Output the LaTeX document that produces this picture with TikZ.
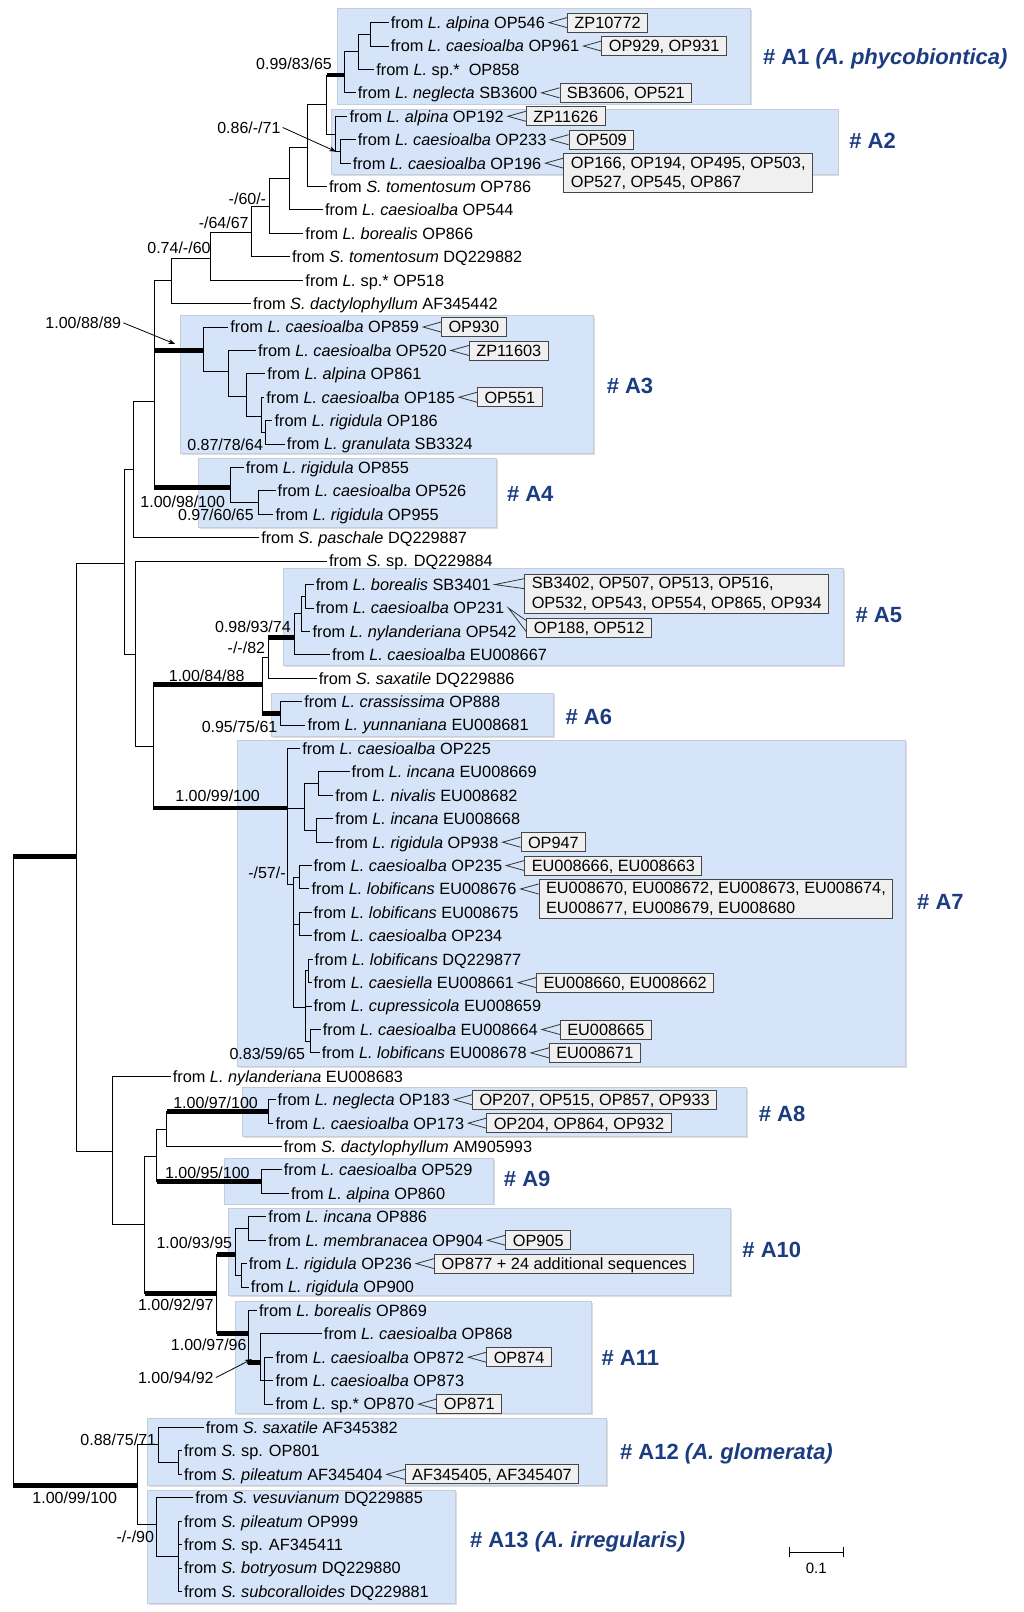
\documentclass[tikz,border=0pt]{standalone}
\usepackage{fontspec}
\setmainfont{Liberation Sans}
\usetikzlibrary{arrows.meta,shadows}
\definecolor{cladefill}{RGB}{213,228,248}
\definecolor{cladeedge}{RGB}{195,205,220}
\definecolor{cladetext}{RGB}{27,60,128}
\definecolor{idfill}{RGB}{240,240,240}
\definecolor{iddraw}{RGB}{70,70,70}
\begin{document}
\begin{tikzpicture}[x=1.0281pt,y=-1.0281pt,
  br/.style={line width=1pt},
  thk/.style={line width=4.6pt},
  clade/.style={fill=cladefill,draw=cladeedge,line width=0.6pt,drop shadow={shadow xshift=1.6pt,shadow yshift=-1.6pt,fill=black!22,opacity=0.6}},
  leaf/.style={anchor=west,inner xsep=2pt,inner ysep=0pt,font=\fontsize{16.3}{18}\selectfont,text height=11.7pt,text depth=0pt},
  idbox/.style={anchor=west,draw=iddraw,fill=idfill,line width=0.9pt,inner xsep=7pt,inner ysep=0pt,minimum height=19pt,font=\fontsize{16.3}{18}\selectfont,text height=11.7pt,text depth=0pt},
  idboxtwo/.style={anchor=north west,draw=iddraw,fill=idfill,line width=0.9pt,inner xsep=7pt,inner ysep=3pt,minimum height=39pt,align=left,font=\fontsize{16.3}{19.5}\selectfont},
  ptr/.style={draw=black!80,line width=0.8pt},
  sup/.style={anchor=east,inner sep=0pt,font=\fontsize{16}{18}\selectfont,text height=11.5pt,text depth=0pt},
  cl/.style={anchor=west,inner sep=0pt,text=cladetext,font=\fontsize{22}{24}\selectfont\bfseries,text height=16pt,text depth=0pt},
  arr/.style={-{Stealth[length=7pt,width=5pt]},line width=0.8pt},
]
\useasboundingbox (0,0) rectangle (996,1568);

% clade boxes
\path[clade] (328,8) rectangle (730,101);
\path[clade] (322,106) rectangle (815,170);
\path[clade] (175,307) rectangle (577,441);
\path[clade] (193,446) rectangle (483,513);
\path[clade] (276,553) rectangle (820,647);
\path[clade] (264,674) rectangle (538,716);
\path[clade] (231,720) rectangle (881,1037);
\path[clade] (236,1058) rectangle (726,1105);
\path[clade] (218,1127) rectangle (480,1171);
\path[clade] (222,1175) rectangle (710,1260);
\path[clade] (229,1266) rectangle (575,1375);
\path[clade] (143,1380) rectangle (590,1445);
\path[clade] (143,1450) rectangle (443,1560);

% leaves
\node[leaf] (l1) at (378,22.0) {from \textit{L. alpina} OP546};
\node[leaf] (l2) at (378,44.8) {from \textit{L. caesioalba} OP961};
\node[leaf] (l3) at (364,67.6) {from \textit{L.} sp.*\ \ OP858};
\node[leaf] (l4) at (346,90.3) {from \textit{L. neglecta} SB3600};
\node[leaf] (l5) at (338,113.1) {from \textit{L. alpina} OP192};
\node[leaf] (l6) at (346,135.9) {from \textit{L. caesioalba} OP233};
\node[leaf] (l7) at (341,158.7) {from \textit{L. caesioalba} OP196};
\node[leaf] (l8) at (318,181.4) {from \textit{S. tomentosum} OP786};
\node[leaf] (l9) at (314,204.2) {from \textit{L. caesioalba} OP544};
\node[leaf] (l10) at (295,227.0) {from \textit{L. borealis} OP866};
\node[leaf] (l11) at (282,249.8) {from \textit{S. tomentosum} DQ229882};
\node[leaf] (l12) at (295,272.5) {from \textit{L.} sp.* OP518};
\node[leaf] (l13) at (244,295.3) {from \textit{S. dactylophyllum} AF345442};
\node[leaf] (l14) at (222,318.1) {from \textit{L. caesioalba} OP859};
\node[leaf] (l15) at (249,340.9) {from \textit{L. caesioalba} OP520};
\node[leaf] (l16) at (258,363.6) {from \textit{L. alpina} OP861};
\node[leaf] (l17) at (257,386.4) {from \textit{L. caesioalba} OP185};
\node[leaf] (l18) at (265,409.2) {from \textit{L. rigidula} OP186};
\node[leaf] (l19) at (277,432.0) {from \textit{L. granulata} SB3324};
\node[leaf] (l20) at (237,454.7) {from \textit{L. rigidula} OP855};
\node[leaf] (l21) at (268,477.5) {from \textit{L. caesioalba} OP526};
\node[leaf] (l22) at (266,500.3) {from \textit{L. rigidula} OP955};
\node[leaf] (l23) at (252,523.1) {from \textit{S. paschale} DQ229887};
\node[leaf] (l24) at (318,545.8) {from \textit{S.} sp. DQ229884};
\node[leaf] (l25) at (305,568.6) {from \textit{L. borealis} SB3401};
\node[leaf] (l26) at (305,591.4) {from \textit{L. caesioalba} OP231};
\node[leaf] (l27) at (302,614.2) {from \textit{L. nylanderiana} OP542};
\node[leaf] (l28) at (321,637.0) {from \textit{L. caesioalba} EU008667};
\node[leaf] (l29) at (308,659.7) {from \textit{S. saxatile} DQ229886};
\node[leaf] (l30) at (294,682.5) {from \textit{L. crassissima} OP888};
\node[leaf] (l31) at (297,705.3) {from \textit{L. yunnaniana} EU008681};
\node[leaf] (l32) at (292,728.1) {from \textit{L. caesioalba} OP225};
\node[leaf] (l33) at (340,750.8) {from \textit{L. incana} EU008669};
\node[leaf] (l34) at (324,773.6) {from \textit{L. nivalis} EU008682};
\node[leaf] (l35) at (324,796.4) {from \textit{L. incana} EU008668};
\node[leaf] (l36) at (324,819.2) {from \textit{L. rigidula} OP938};
\node[leaf] (l37) at (303,841.9) {from \textit{L. caesioalba} OP235};
\node[leaf] (l38) at (301,864.7) {from \textit{L. lobificans} EU008676};
\node[leaf] (l39) at (303,887.5) {from \textit{L. lobificans} EU008675};
\node[leaf] (l40) at (303,910.3) {from \textit{L. caesioalba} OP234};
\node[leaf] (l41) at (304,933.0) {from \textit{L. lobificans} DQ229877};
\node[leaf] (l42) at (303,955.8) {from \textit{L. caesiella} EU008661};
\node[leaf] (l43) at (303,978.6) {from \textit{L. cupressicola} EU008659};
\node[leaf] (l44) at (312,1001.4) {from \textit{L. caesioalba} EU008664};
\node[leaf] (l45) at (311,1024.1) {from \textit{L. lobificans} EU008678};
\node[leaf] (l46) at (166,1046.9) {from \textit{L. nylanderiana} EU008683};
\node[leaf] (l47) at (268,1069.7) {from \textit{L. neglecta} OP183};
\node[leaf] (l48) at (266,1092.5) {from \textit{L. caesioalba} OP173};
\node[leaf] (l49) at (274,1115.2) {from \textit{S. dactylophyllum} AM905993};
\node[leaf] (l50) at (274,1138.0) {from \textit{L. caesioalba} OP529};
\node[leaf] (l51) at (281,1160.8) {from \textit{L. alpina} OP860};
\node[leaf] (l52) at (259,1183.6) {from \textit{L. incana} OP886};
\node[leaf] (l53) at (259,1206.4) {from \textit{L. membranacea} OP904};
\node[leaf] (l54) at (240,1229.1) {from \textit{L. rigidula} OP236};
\node[leaf] (l55) at (242,1251.9) {from \textit{L. rigidula} OP900};
\node[leaf] (l56) at (250,1274.7) {from \textit{L. borealis} OP869};
\node[leaf] (l57) at (313,1297.5) {from \textit{L. caesioalba} OP868};
\node[leaf] (l58) at (266,1320.2) {from \textit{L. caesioalba} OP872};
\node[leaf] (l59) at (266,1343.0) {from \textit{L. caesioalba} OP873};
\node[leaf] (l60) at (266,1365.8) {from \textit{L.} sp.* OP870};
\node[leaf] (l61) at (198,1388.6) {from \textit{S. saxatile} AF345382};
\node[leaf] (l62) at (177,1411.3) {from \textit{S.} sp. OP801};
\node[leaf] (l63) at (177,1434.1) {from \textit{S. pileatum} AF345404};
\node[leaf] (l64) at (188,1456.9) {from \textit{S. vesuvianum} DQ229885};
\node[leaf] (l65) at (177,1479.7) {from \textit{S. pileatum} OP999};
\node[leaf] (l66) at (177,1502.4) {from \textit{S.} sp. AF345411};
\node[leaf] (l67) at (177,1525.2) {from \textit{S. botryosum} DQ229880};
\node[leaf] (l68) at (177,1548.0) {from \textit{S. subcoralloides} DQ229881};

% internal nodes
\coordinate (root) at (12.7,1139);
\coordinate (n20) at (74,833);
\coordinate (n10) at (121,548);
\coordinate (n9) at (130,457);
\coordinate (n8) at (150,391);
\coordinate (n7) at (166.6,272.5);
\coordinate (n6) at (204.7,251.3);
\coordinate (n5) at (244.8,226.3);
\coordinate (n4) at (262.6,201);
\coordinate (n3) at (281.6,173.5);
\coordinate (n2) at (298.8,143);
\coordinate (n1) at (318,102);
\coordinate (a1) at (335,73);
\coordinate (a1b) at (348.4,50.5);
\coordinate (a1c) at (360.5,33.4);
\coordinate (a2) at (326,131);
\coordinate (a2b) at (331,147.3);
\coordinate (a3) at (198,340.9);
\coordinate (a3b) at (222.5,361);
\coordinate (a3c) at (240,386);
\coordinate (a3d) at (254,405);
\coordinate (a3e) at (258,420.6);
\coordinate (a4) at (224,474);
\coordinate (a4b) at (251,489);
\coordinate (n11) at (132,637);
\coordinate (n12) at (149,726);
\coordinate (n13) at (255,666);
\coordinate (n14) at (261,640);
\coordinate (a5) at (286,620);
\coordinate (a5s) at (293,597);
\coordinate (a5t) at (297,580);
\coordinate (a6) at (273,694);
\coordinate (a7) at (280,786);
\coordinate (a7i) at (296,786);
\coordinate (a7ia) at (310,762.2);
\coordinate (a7ib) at (308,807.8);
\coordinate (a7p) at (285,860);
\coordinate (pr1) at (291,853.3);
\coordinate (pr2) at (291,898.9);
\coordinate (a7q) at (297,980);
\coordinate (pr3) at (300,944.4);
\coordinate (pr4) at (302,1012.8);
\coordinate (n21) at (109,1120);
\coordinate (n22) at (141,1191);
\coordinate (n23) at (152.6,1125);
\coordinate (n25) at (162,1099);
\coordinate (a8) at (261,1081.1);
\coordinate (a9) at (254,1149.4);
\coordinate (n24) at (211,1258);
\coordinate (a10) at (229,1220);
\coordinate (a10a) at (242,1195);
\coordinate (a10b) at (235,1240.5);
\coordinate (a11) at (241.6,1297);
\coordinate (s11) at (253,1325.5);
\coordinate (s11c) at (257.5,1343);
\coordinate (n30) at (133.5,1445);
\coordinate (a12) at (154.5,1405.5);
\coordinate (a12b) at (173.5,1422.7);
\coordinate (a13) at (152.6,1483);
\coordinate (a13b) at (173.5,1514);

% branches
\foreach \p/\c in {root/n20, root/n30, n20/n10, n20/n21, n10/n9, n10/n11,
  n9/n8, n9/l23.west, n8/n7, n8/a3, n8/a4, n7/n6, n7/l13.west,
  n6/n5, n6/l12.west, n5/n4, n5/l11.west, n4/n3, n4/l10.west,
  n3/n2, n3/l9.west, n2/n1, n2/l8.west, n1/a1, n1/a2,
  a1/a1b, a1/l4.west, a1b/a1c, a1b/l3.west, a1c/l1.west, a1c/l2.west,
  a2/l5.west, a2/a2b, a2b/l6.west, a2b/l7.west,
  a3/l14.west, a3/a3b, a3b/l15.west, a3b/a3c, a3c/l16.west, a3c/a3d,
  a3d/l17.west, a3d/a3e, a3e/l18.west, a3e/l19.west,
  a4/l20.west, a4/a4b, a4b/l21.west, a4b/l22.west,
  n11/l24.west, n11/n12, n12/n13, n12/a7, n13/n14, n13/a6,
  n14/a5, n14/l29.west, a5/a5s, a5/l28.west, a5s/a5t, a5s/l27.west,
  a5t/l25.west, a5t/l26.west, a6/l30.west, a6/l31.west,
  a7/l32.west, a7/a7i, a7/a7p, a7i/a7ia, a7i/a7ib,
  a7ia/l33.west, a7ia/l34.west, a7ib/l35.west, a7ib/l36.west,
  a7p/pr1, a7p/pr2, a7p/a7q, pr1/l37.west, pr1/l38.west,
  pr2/l39.west, pr2/l40.west, a7q/pr3, a7q/l43.west, a7q/pr4,
  pr3/l41.west, pr3/l42.west, pr4/l44.west, pr4/l45.west,
  n21/l46.west, n21/n22, n22/n23, n22/n24, n23/n25, n23/a9,
  n25/a8, n25/l49.west, a8/l47.west, a8/l48.west, a9/l50.west, a9/l51.west,
  n24/a10, n24/a11, a10/a10a, a10/a10b, a10a/l52.west, a10a/l53.west,
  a10b/l54.west, a10b/l55.west, a11/l56.west, a11/s11,
  s11/l57.west, s11/s11c, s11c/l58.west, s11c/l59.west, s11c/l60.west,
  n30/a12, n30/a13, a12/l61.west, a12/a12b, a12b/l62.west, a12b/l63.west,
  a13/l64.west, a13/a13b, a13b/l65.west, a13b/l66.west, a13b/l67.west, a13b/l68.west}
  \draw[br] (\p) |- (\c);

\foreach \p/\c in {root/n20, root/n30, n1/a1, n8/a3, n8/a4, n14/a5, n12/n13,
  n13/a6, n12/a7, n25/a8, n23/a9, n22/n24, n24/a10, n24/a11, a11/s11}
  \draw[thk] (\p |- \c) -- (\c);

% id boxes
\node[idbox] (b1) at ([xshift=20pt]l1.east) {ZP10772};
\node[idbox] (b2) at ([xshift=20pt]l2.east) {OP929, OP931};
\node[idbox] (b3) at ([xshift=20pt]l4.east) {SB3606, OP521};
\node[idbox] (b4) at ([xshift=20pt]l5.east) {ZP11626};
\node[idbox] (b5) at ([xshift=20pt]l6.east) {OP509};
\node[idboxtwo] (b6) at ([xshift=20pt,yshift=10pt]l7.east) {OP166, OP194, OP495, OP503,\\OP527, OP545, OP867};
\node[idbox] (b7) at ([xshift=20pt]l14.east) {OP930};
\node[idbox] (b8) at ([xshift=20pt]l15.east) {ZP11603};
\node[idbox] (b9) at ([xshift=20pt]l17.east) {OP551};
\node[idboxtwo] (b10) at (510,558) {SB3402, OP507, OP513, OP516,\\OP532, OP543, OP554, OP865, OP934};
\node[idbox] (b11) at (512,610.5) {OP188, OP512};
\node[idbox] (b12) at ([xshift=20pt]l36.east) {OP947};
\node[idbox] (b13) at ([xshift=20pt]l37.east) {EU008666, EU008663};
\node[idboxtwo] (b14) at ([xshift=20pt,yshift=10pt]l38.east) {EU008670, EU008672, EU008673, EU008674,\\EU008677, EU008679, EU008680};
\node[idbox] (b15) at ([xshift=20pt]l42.east) {EU008660, EU008662};
\node[idbox] (b16) at ([xshift=20pt]l44.east) {EU008665};
\node[idbox] (b17) at ([xshift=20pt]l45.east) {EU008671};
\node[idbox] (b18) at ([xshift=20pt]l47.east) {OP207, OP515, OP857, OP933};
\node[idbox] (b19) at ([xshift=20pt]l48.east) {OP204, OP864, OP932};
\node[idbox] (b20) at ([xshift=20pt]l53.east) {OP905};
\node[idbox] (b21) at ([xshift=20pt]l54.east) {OP877 + 24 additional sequences};
\node[idbox] (b22) at ([xshift=20pt]l58.east) {OP874};
\node[idbox] (b23) at ([xshift=20pt]l60.east) {OP871};
\node[idbox] (b24) at ([xshift=20pt]l63.east) {AF345405, AF345407};

\foreach \bx/\lf in {b1/l1, b2/l2, b3/l4, b4/l5, b5/l6, b7/l14, b8/l15, b9/l17,
  b12/l36, b13/l37, b15/l42, b16/l44, b17/l45, b18/l47, b19/l48, b20/l53,
  b21/l54, b22/l58, b23/l60, b24/l63}
  \draw[ptr] ([yshift=5pt]\bx.west) -- ([xshift=2pt]\lf.east) -- ([yshift=-5pt]\bx.west);
\foreach \bx/\lf in {b6/l7, b10/l25, b14/l38}
  \draw[ptr] ([yshift=-5pt]\bx.north west) -- ([xshift=2pt]\lf.east) -- ([yshift=-15pt]\bx.north west);
\draw[ptr] ([yshift=-3pt]b11.north west) -- ([xshift=2pt]l26.east) -- ([yshift=-14pt]b11.north west);

% support values
\node[sup] (s1) at (323,61.6) {0.99/83/65};
\node[sup] (s2) at (273,124) {0.86/-/71};
\node[sup] (s3) at (259,193) {-/60/-};
\node[sup] (s4) at (242,217) {-/64/67};
\node[sup] (s5) at (205,241) {0.74/-/60};
\node[sup] (s6) at (118,314) {1.00/88/89};
\node[sup] (s7) at (256,432.5) {0.87/78/64};
\node[sup] (s8) at (219,488) {1.00/98/100};
\node[sup] (s9) at (247,501) {0.97/60/65};
\node[sup] (s10) at (283,610) {0.98/93/74};
\node[sup] (s11l) at (258,630) {-/-/82};
\node[sup] (s12) at (238,657) {1.00/84/88};
\node[sup] (s13) at (270,707) {0.95/75/61};
\node[sup] (s14) at (253,774) {1.00/99/100};
\node[sup] (s15) at (278,849) {-/57/-};
\node[sup] (s16) at (297,1024.5) {0.83/59/65};
\node[sup] (s17) at (251,1073) {1.00/97/100};
\node[sup] (s18) at (243,1141) {1.00/95/100};
\node[sup] (s19) at (226,1209) {1.00/93/95};
\node[sup] (s20) at (208,1269) {1.00/92/97};
\node[sup] (s21) at (240,1308) {1.00/97/96};
\node[sup] (s22) at (208,1340) {1.00/94/92};
\node[sup] (s23) at (152,1400) {0.88/75/71};
\node[sup] (s24) at (114,1457) {1.00/99/100};
\node[sup] (s25) at (150,1495) {-/-/90};

\coordinate (t2) at (327,147.5);
\coordinate (t6) at (170.4,334.6);
\coordinate (t22) at (245,1322);
\draw[arr] ([xshift=2pt]s2.east) -- (t2);
\draw[arr] ([xshift=2pt]s6.east) -- (t6);
\draw[arr] ([xshift=2pt]s22.east) -- (t22);

% clade labels
\node[cl] (c1) at (742,55) {\# A1 \textit{(A. phycobiontica)}};
\node[cl] (c2) at (826,137) {\# A2};
\node[cl] (c3) at (590,375) {\# A3};
\node[cl] (c4) at (493,480) {\# A4};
\node[cl] (c5) at (832,598) {\# A5};
\node[cl] (c6) at (550,697) {\# A6};
\node[cl] (c7) at (892,877) {\# A7};
\node[cl] (c8) at (738,1083) {\# A8};
\node[cl] (c9) at (490,1146) {\# A9};
\node[cl] (c10) at (722,1215) {\# A10};
\node[cl] (c11) at (585,1320) {\# A11};
\node[cl] (c12) at (603,1412) {\# A12 \textit{(A. glomerata)}};
\node[cl] (c13) at (457,1497) {\# A13 \textit{(A. irregularis)}};

% scale bar
\coordinate (sbl) at (768,1510);
\coordinate (sbr) at (820,1510);
\draw[br] (sbl) -- (sbr);
\draw[br] ([yshift=5pt]sbl) -- ([yshift=-5pt]sbl);
\draw[br] ([yshift=5pt]sbr) -- ([yshift=-5pt]sbr);
\node[font=\fontsize{15}{17}\selectfont,inner sep=0pt,text height=11pt,text depth=0pt] (sblab) at (794,1525) {0.1};
\end{tikzpicture}
\end{document}
